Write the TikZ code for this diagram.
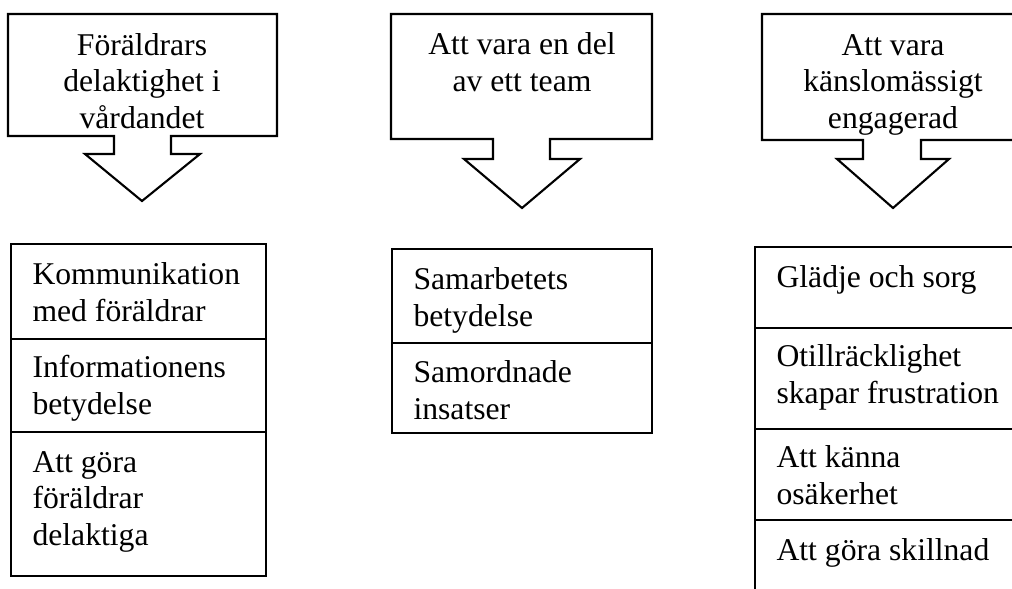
\documentclass[tikz,border=0pt]{standalone}
\usepackage{fontspec}
\setmainfont{Liberation Serif}
\usetikzlibrary{calc}

\tikzset{
  callout/.style={line width=0.8pt,line join=miter},
  grid/.style={line width=0.45pt},
  head/.style={anchor=base,align=center,inner sep=0pt,font=\fontsize{12}{13.8}\selectfont},
  cell/.style={anchor=base west,align=left,inner sep=0pt,font=\fontsize{12}{13.8}\selectfont}
}

\begin{document}
\begin{tikzpicture}[x=0.379pt,y=-0.379pt]
\clip (0,0) rectangle (1012,588);
% boxes with arrows
\draw[callout] (8,14)--(277,14)--(277,136)--(171,136)--(171,154)--(200,154)--(142,201)--(85,154)--(114,154)--(114,136)--(8,136)--cycle;
\draw[callout] (391,14)--(652,14)--(652,139)--(550,139)--(550,159)--(580,159)--(522,208)--(464,159)--(493,159)--(493,139)--(391,139)--cycle;
\draw[callout] (762,14)--(1024,14)--(1024,140)--(921,140)--(921,159)--(949,159)--(893,208)--(837,159)--(863,159)--(863,140)--(762,140)--cycle;
% base anchor = baseline of the last line
\node[head] (H1) at (142,128) {Föräldrars\\delaktighet i\\vårdandet};
\node[head] (H2) at (522,91) {Att vara en del\\av ett team};
\node[head] (H3) at (893,128) {Att vara\\känslomässigt\\engagerad};
% tables
\draw[grid] (11,244) rectangle (266,576);
\draw[grid] (11,339)--(266,339);
\draw[grid] (11,432)--(266,432);
\draw[grid] (392,249) rectangle (652,433);
\draw[grid] (392,343)--(652,343);
\draw[grid] (755,247) rectangle (1020,600);
\draw[grid] (755,328)--(1020,328);
\draw[grid] (755,429)--(1020,429);
\draw[grid] (755,520)--(1020,520);
\node[cell] (A1) at (32,321) {Kommunikation\\med föräldrar};
\node[cell] (A2) at (32,414) {Informationens\\betydelse};
\node[cell] (A3) at (32,545) {Att göra\\föräldrar\\delaktiga};
\node[cell] (B1) at (413,326) {Samarbetets\\betydelse};
\node[cell] (B2) at (413,419) {Samordnade\\insatser};
\node[cell] (C1) at (776,287) {Glädje och sorg};
\node[cell] (C2) at (776,403) {Otillräcklighet\\skapar frustration};
\node[cell] (C3) at (776,504) {Att känna\\osäkerhet};
\node[cell] (C4) at (776,560) {Att göra skillnad};
\end{tikzpicture}
\end{document}
